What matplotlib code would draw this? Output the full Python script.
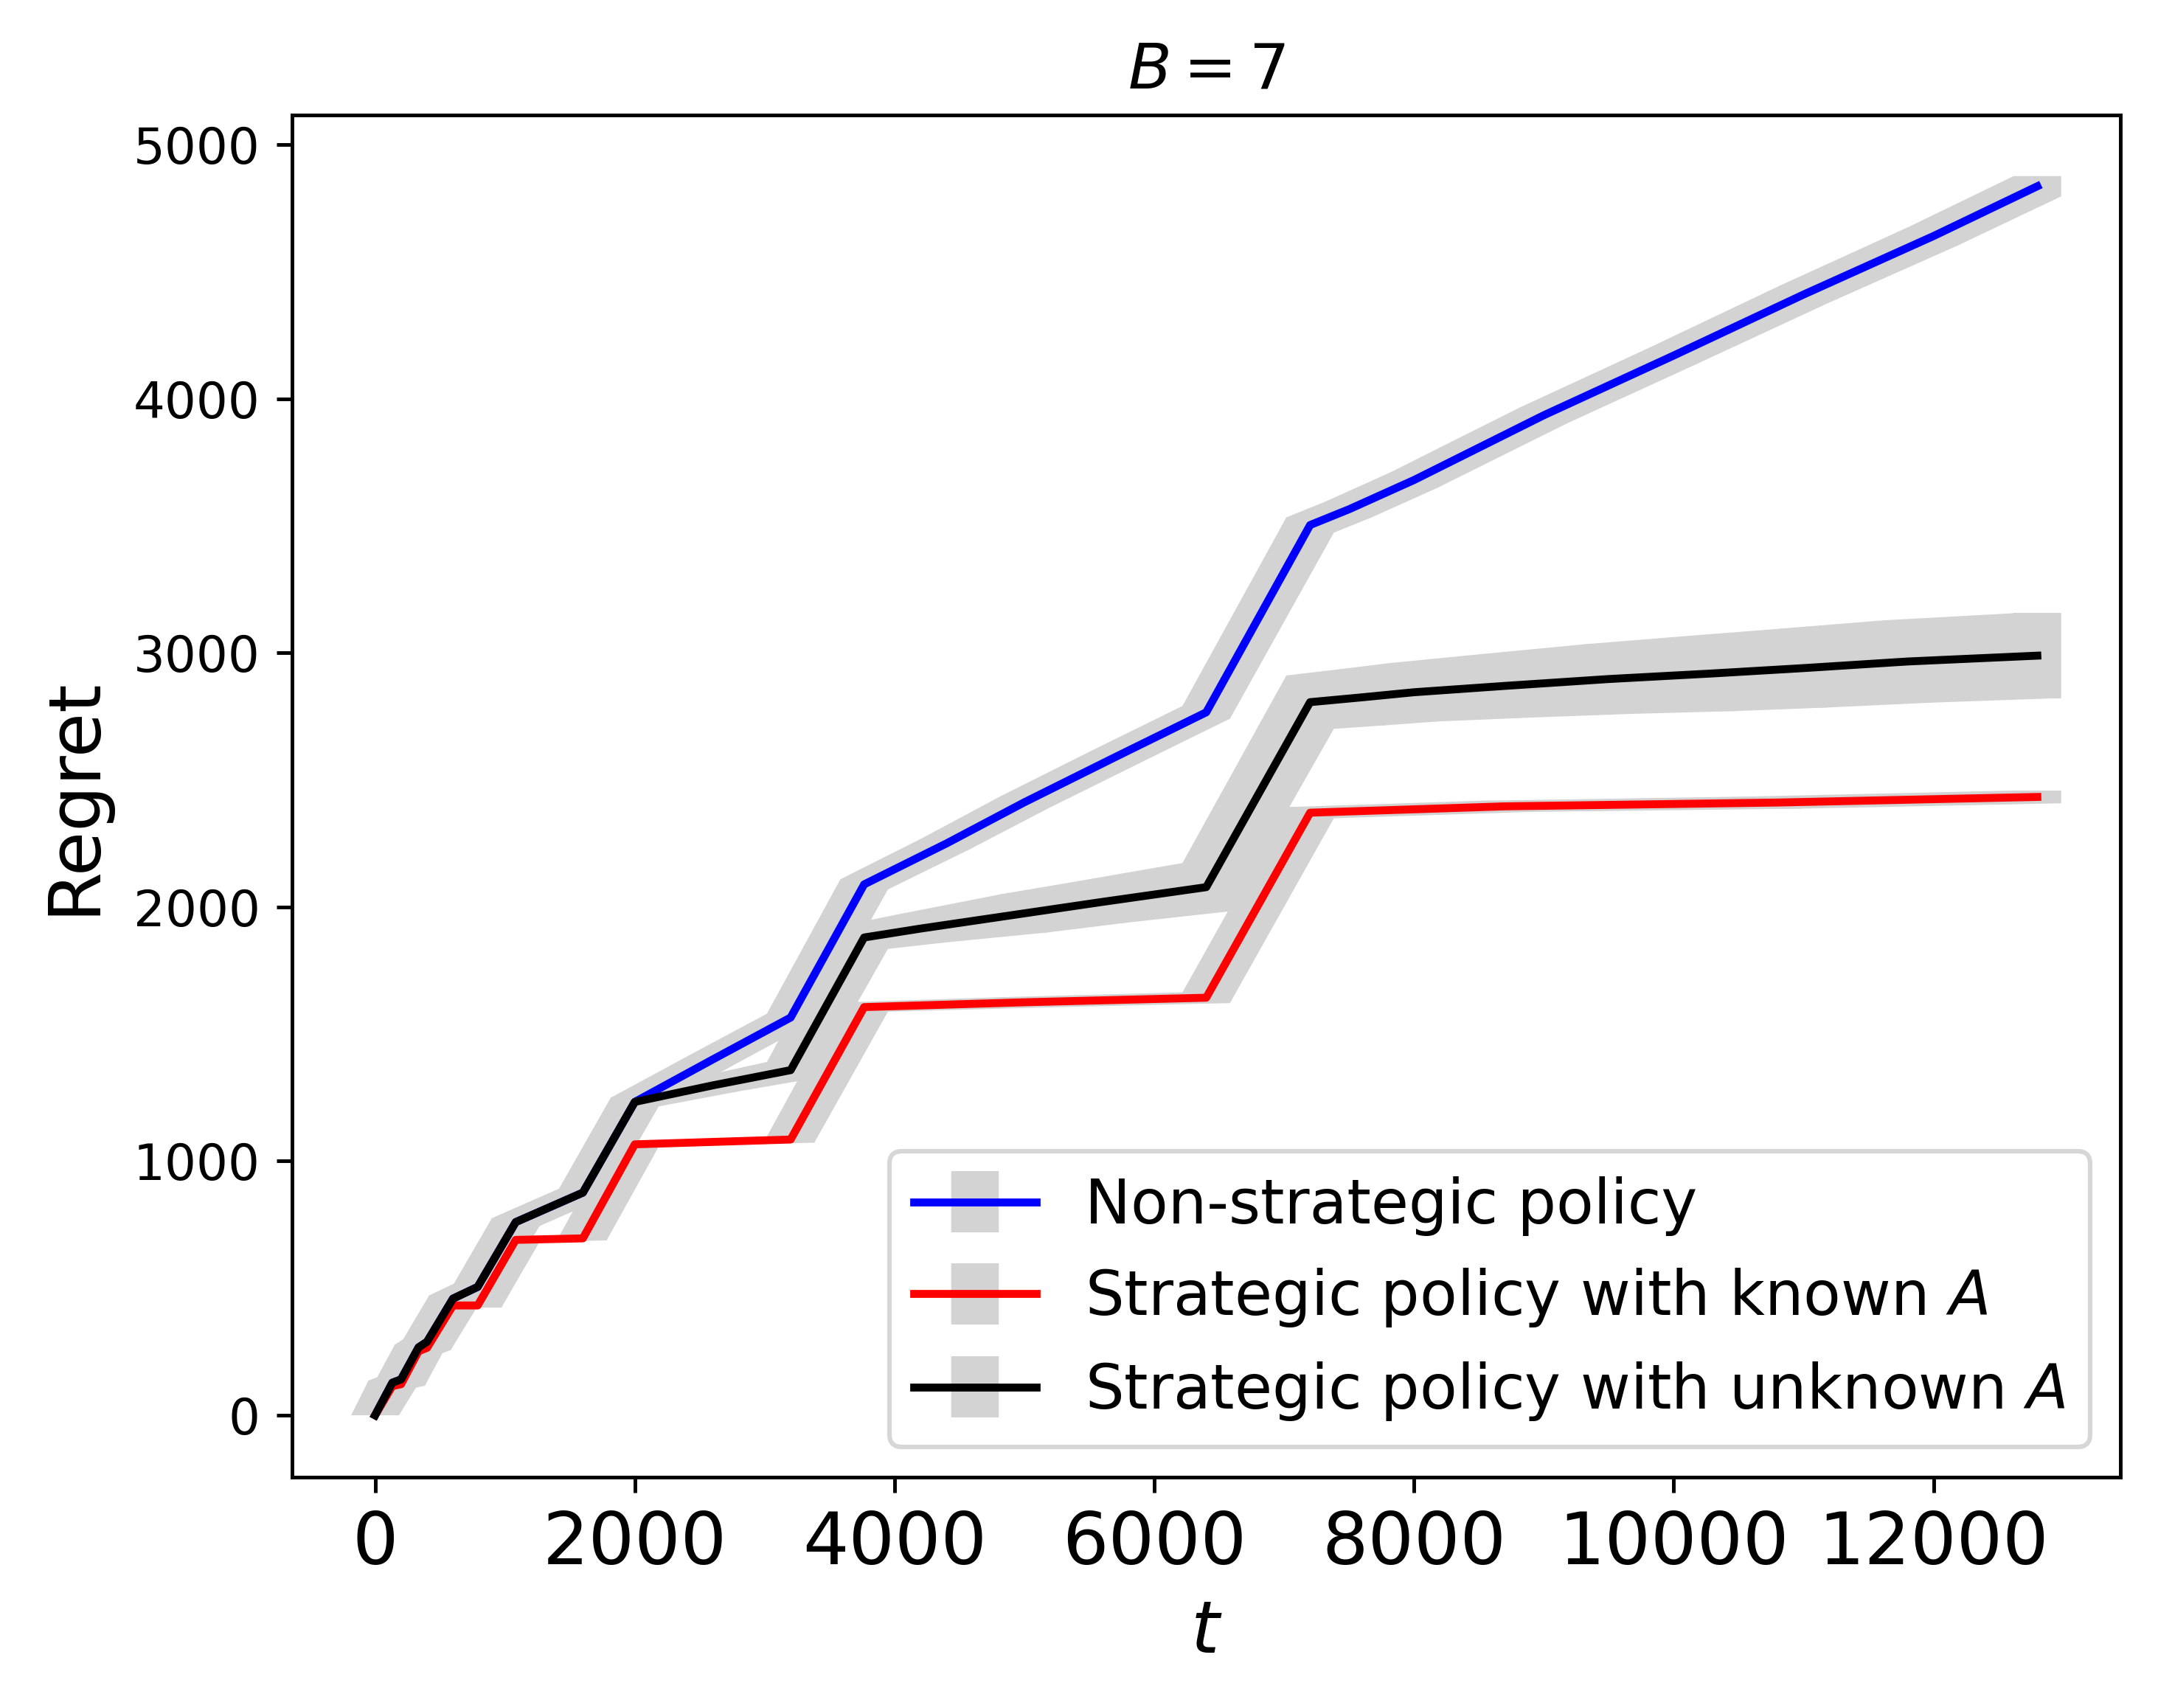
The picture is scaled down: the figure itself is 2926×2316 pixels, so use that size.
import numpy as np
import matplotlib
matplotlib.use('Agg')
import matplotlib.pyplot as plt
from matplotlib.patches import Polygon

# time steps and regret values
t_blue = [0, 133, 200, 335, 400, 600, 790, 1083, 1600, 2000, 2600, 3200, 3766,
          4400, 5000, 5700, 6400, 7200, 7500, 8000, 9000, 10000, 11000, 12000, 12800]
blue = [0, 128, 141, 267, 289, 459, 505, 760, 876, 1233, 1400, 1565, 2089,
        2250, 2412, 2590, 2766, 3503, 3565, 3680, 3935, 4170, 4410, 4640, 4836]
blue_err = [0, 8, 8, 10, 10, 12, 12, 15, 15, 17, 16, 15, 20,
            22, 24, 25, 25, 30, 30, 30, 31, 32, 35, 38, 40]

t_red = [0, 133, 200, 335, 400, 600, 790, 1083, 1600, 2000, 3200, 3766,
         5000, 6400, 7200, 8700, 10800, 12800]
red = [0, 115, 122, 252, 265, 432, 432, 690, 696, 1066, 1085, 1606,
       1625, 1643, 2371, 2396, 2411, 2433]
red_err = [0, 6, 6, 8, 8, 8, 8, 8, 8, 10, 12, 18,
           20, 21, 22, 22, 24, 25]

t_black = [0, 133, 200, 335, 400, 600, 790, 1083, 1600, 2000, 2600, 3200, 3766,
           4200, 5000, 5600, 6400, 7200, 7600, 8000, 8700, 9500, 10300, 11000, 11800, 12800]
black = [0, 128, 141, 267, 289, 459, 505, 760, 876, 1233, 1298, 1358, 1880,
         1915, 1975, 2020, 2078, 2806, 2825, 2845, 2870, 2897, 2919, 2940, 2966, 2989]
black_err = [0, 8, 8, 10, 10, 12, 12, 15, 15, 18, 25, 32, 45,
             55, 75, 82, 95, 105, 110, 115, 125, 137, 148, 155, 162, 167]

labels = ['Non-strategic policy', 'Strategic policy with known $A$',
          'Strategic policy with unknown $A$']

DPI = 442
ELW = 10.5  # error bar width in points

fig = plt.figure(figsize=(2926 / DPI, 2316 / DPI), dpi=DPI)
ax = fig.add_axes([0.1353, 0.1351, 0.8473, 0.7975])
ax.set_xlim(-640, 13440)
ax.set_ylim(-244, 5116)

# half width of an error bar in data units
ax_px = fig.get_figwidth() * DPI * 0.8473
half = ELW * DPI / 72 / 2 * (13440 + 640) / ax_px


def hull(pts):
    pts = sorted(set(pts))
    def cross(o, a, b):
        return (a[0] - o[0]) * (b[1] - o[1]) - (a[1] - o[1]) * (b[0] - o[0])
    lower, upper = [], []
    for p in pts:
        while len(lower) >= 2 and cross(lower[-2], lower[-1], p) <= 0:
            lower.pop()
        lower.append(p)
    for p in reversed(pts):
        while len(upper) >= 2 and cross(upper[-2], upper[-1], p) <= 0:
            upper.pop()
        upper.append(p)
    return lower[:-1] + upper[:-1]


def band(t, y, e):
    # the thick error bars merge into a band between the recorded points
    for i in range(len(t) - 1):
        pts = []
        for j in (i, i + 1):
            for dx in (-half, half):
                for dy in (-e[j], e[j]):
                    pts.append((t[j] + dx, y[j] + dy))
        ax.add_patch(Polygon(hull(pts), closed=True, facecolor='lightgray',
                             edgecolor='none', zorder=1.9))


for t, y, e, c, lab in [(t_blue, blue, blue_err, 'b', labels[0]),
                        (t_red, red, red_err, 'r', labels[1]),
                        (t_black, black, black_err, 'k', labels[2])]:
    band(t, y, e)
    ax.errorbar(t, y, yerr=e, color=c, ecolor='lightgray', elinewidth=ELW,
                linewidth=1.75, label=lab)

ax.set_xlim(-640, 13440)
ax.set_ylim(-244, 5116)

ax.set_title('$B = 7$', fontsize=14)
ax.set_xlabel('$t$', fontsize=16)
ax.set_ylabel('Regret', fontsize=16, labelpad=5.5)
ax.tick_params(axis='x', labelsize=16)
ax.tick_params(axis='y', labelsize=11)
ax.legend(loc='lower right', fontsize=13.5)

fig.savefig('out.png', dpi=DPI)
